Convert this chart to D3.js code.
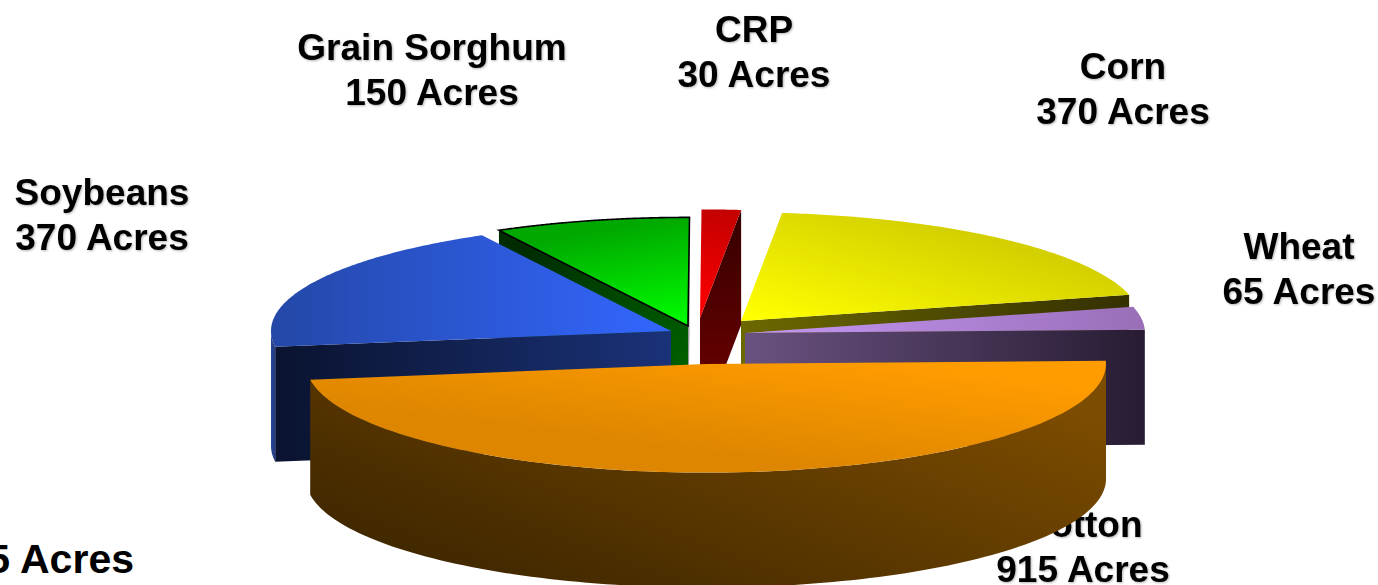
<!DOCTYPE html>
<html><head><meta charset="utf-8">
<script src="https://cdn.jsdelivr.net/npm/d3@7"></script>
<style>html,body{margin:0;padding:0;background:#fff;overflow:hidden}svg{display:block}
text{font-family:"Liberation Sans",Arial,sans-serif;font-weight:700;fill:#000}</style>
</head><body><svg id="c" width="1378" height="585"></svg>
<script>
// ---- data ----
const categories = ["Corn","Wheat","Cotton","Soybeans","Grain Sorghum","CRP"];
const acres = [370,65,915,370,150,30];
const unit = "Acres";
const strayLabel = "5 Acres";
// ---- layout ----
const apexes = [[741,321],[745,333],[706,364],[671,331],[688,326],[700,318]];
const labelPos = [[1123,79],[1299,259],[1083,537],[102,205],[432,60],[754,42]];
const drawOrder = [4,5,0,1,3,2];
const RX = 400, RY = 108.6, DEPTH = 115, START_DEG = 5.9;
// ---- styles: [x1,y1,x2,y2,from,to] ----
const topFill = [
 [760,320,800,180,"#ffff00","#d2ce00"],
 [760,330,1140,320,"#c496f4","#9a6fb8"],
 [1000,375,985,490,"#ff9c00","#de8600"],
 [670,330,275,330,"#3366ff","#2448a8"],
 [688,325,670,218,"#00ff00","#00a800"],
 [700,316,720,210,"#ff0000","#c40000"]];
const sideFill = [
 [745,340,1128,310,"#6b6800","#353000"],
 [745,400,1145,400,"#6a5280","#271c33"],
 [706,400,706,500,"#3d2600","#7a4a00"],
 [280,400,671,400,"#0a1330","#1a3278"],
 [500,300,688,400,"#002c00","#006400"],
 [720,220,720,400,"#380000","#6c0000"]];
const wallFill = [
 null,null,
 [1100,420,963,785,"#7c4c00","#3d2600"],
 [270,400,280,400,"#2a4694","#1c3478"],
 null,null];
const topStroke = [null,null,null,null,"#000",null];

const svg = d3.select("#c");
const defs = svg.append("defs");
function grad(id,g){
  const lg = defs.append("linearGradient").attr("id",id).attr("gradientUnits","userSpaceOnUse")
    .attr("x1",g[0]).attr("y1",g[1]).attr("x2",g[2]).attr("y2",g[3]);
  lg.append("stop").attr("offset",0).attr("stop-color",g[4]);
  lg.append("stop").attr("offset",1).attr("stop-color",g[5]);
  return "url(#"+id+")";
}
const rad = d => d*Math.PI/180;
const pie = d3.pie().sort(null).value(d=>d).startAngle(rad(START_DEG)).endAngle(rad(START_DEG)+2*Math.PI);
const arcs = pie(acres);
const sx = d3.scaleLinear().domain([-1,1]).range([-RX,RX]);
const sy = d3.scaleLinear().domain([-1,1]).range([-RY,RY]);
const line = d3.line();

// labels sit underneath the pie
const labels = svg.append("g").style("filter","drop-shadow(1.6px 1.6px 0.8px #b4b4b4)");
categories.forEach((c,i)=>{
  const t = labels.append("text").attr("text-anchor","middle").attr("font-size",37);
  t.append("tspan").attr("x",labelPos[i][0]).attr("y",labelPos[i][1]).text(c);
  t.append("tspan").attr("x",labelPos[i][0]).attr("y",labelPos[i][1]+45).text(acres[i]+" "+unit);
});
svg.append("text").attr("x",134).attr("y",573).attr("text-anchor","end").attr("font-size",41).text(strayLabel);

const pie3d = svg.append("g");
drawOrder.forEach(i=>{
  const a = arcs[i], [ax,ay] = apexes[i];
  const pt = th => [ax+sx(Math.sin(th)), ay-sy(Math.cos(th))];
  const down = p => [p[0],p[1]+DEPTH];
  const g = pie3d.append("g");
  const arcPts = (t0,t1)=>d3.range(0,121).map(k=>pt(t0+(t1-t0)*k/120));
  const sfill = grad("s"+i,sideFill[i]);
  // cut faces
  if(Math.sin(a.startAngle)<0){
    const p=pt(a.startAngle);
    g.append("path").attr("d",line([[ax,ay],p,down(p),[ax,ay+DEPTH]])+"Z").attr("fill",sfill);
  }
  if(Math.sin(a.endAngle)>0){
    const p=pt(a.endAngle);
    const f = i===4 ? "#9a9a9a" : sfill;
    g.append("path").attr("d",line([[ax,ay],p,down(p),[ax,ay+DEPTH]])+"Z").attr("fill",f);
  }
  // outer wall, front half only
  const w0=Math.max(a.startAngle,Math.PI/2), w1=Math.min(a.endAngle,1.5*Math.PI);
  if(w1>w0 && wallFill[i]){
    const up=arcPts(w0,w1);
    g.append("path").attr("d",line(up.concat(up.slice().reverse().map(down)))+"Z").attr("fill",grad("w"+i,wallFill[i]));
  }
  // top face
  g.append("path").attr("d",line([[ax,ay]].concat(arcPts(a.startAngle,a.endAngle)))+"Z")
    .attr("fill",grad("t"+i,topFill[i]))
    .attr("stroke",topStroke[i]||"none").attr("stroke-width",topStroke[i]?1.6:0);
});
</script></body></html>
